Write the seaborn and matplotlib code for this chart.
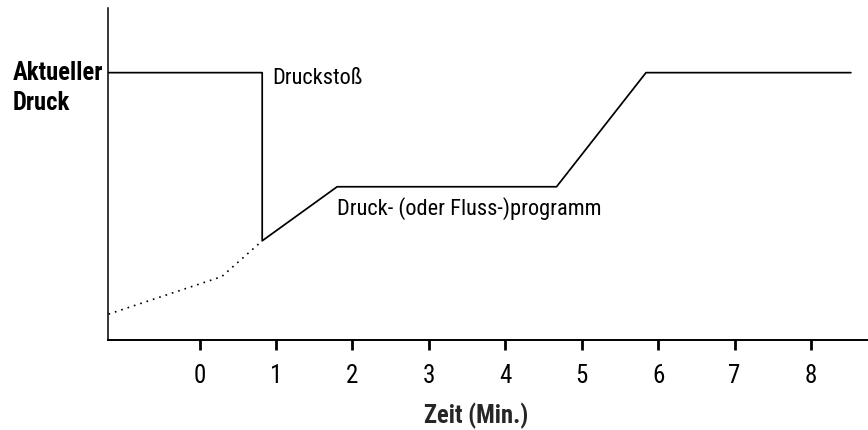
import matplotlib
matplotlib.use("Agg")
import matplotlib.pyplot as plt
from matplotlib import font_manager
import seaborn as sns
import pandas as pd

# Time axis (minutes) and pressure levels (arbitrary units)
time_program = [-1.19, 0.82, 0.82, 1.80, 4.67, 5.84, 8.52]
pressure_program = [8.06, 8.06, 2.99, 4.62, 4.62, 8.06, 8.06]

time_without_pulse = [-1.19, 0.29, 0.82]
pressure_without_pulse = [0.78, 1.91, 2.99]

tick_minutes = [0, 1, 2, 3, 4, 5, 6, 7, 8]
tick_labels = ["0", "1", "2", "3", "4", "5", "6", "7", "8"]

sns.set_style("white")


def as_weight(w):
    if isinstance(w, str):
        return font_manager.weight_dict.get(w, 400)
    return int(w)


# collect narrow faces and the weights each one offers
narrow_weights = {}
for f in font_manager.fontManager.ttflist:
    if "Narrow" in f.name or "Condensed" in f.name:
        narrow_weights.setdefault(f.name, set()).add(as_weight(f.weight))

preferred = ["Roboto Condensed", "Noto Sans Condensed", "Open Sans Condensed",
             "DejaVu Sans Condensed", "Liberation Sans Narrow"]
regular_family = None
for name in preferred + sorted(narrow_weights):
    if name in narrow_weights and 400 in narrow_weights[name]:
        regular_family = name
        break
if regular_family is None:
    regular_family = next(iter(narrow_weights), "DejaVu Sans")

bold_family = None
bold_weight = "bold"
if any(w >= 700 for w in narrow_weights.get(regular_family, ())):
    bold_family = regular_family
else:
    for name in preferred + sorted(narrow_weights):
        heavy = [w for w in narrow_weights.get(name, ()) if w >= 600]
        if heavy:
            bold_family = name
            bold_weight = min(heavy, key=lambda w: abs(w - 700))
            break
if bold_family is None:
    bold_family = regular_family

plt.rcParams["font.family"] = [regular_family, "DejaVu Sans"]
plt.rcParams["text.color"] = "black"
plt.rcParams["xtick.color"] = "black"
bold_font = dict(family=[bold_family, "DejaVu Sans"], weight=bold_weight)

W, H = 868, 430
fig = plt.figure(figsize=(W / 100, H / 100), dpi=100)
left, right, bottom, top = 108, 868, 340, 8.3
ax = fig.add_axes([left / W, 1 - bottom / H, (right - left) / W, (bottom - top) / H])

prog = pd.DataFrame({"t": time_program, "p": pressure_program})
free = pd.DataFrame({"t": time_without_pulse, "p": pressure_without_pulse})

sns.lineplot(data=prog, x="t", y="p", sort=False, estimator=None,
             color="black", linewidth=1.25, ax=ax)
sns.lineplot(data=free, x="t", y="p", sort=False, estimator=None,
             color="black", linewidth=1.2, linestyle=(0, (1, 3)), ax=ax)

ax.set_xlim(-1.197, 8.744)
ax.set_ylim(0, 10)

for side in ("top", "right"):
    ax.spines[side].set_visible(False)
ax.spines["left"].set_linewidth(1.1)
ax.spines["bottom"].set_linewidth(1.4)
for side in ("left", "bottom"):
    ax.spines[side].set_color("black")

# size the two text styles so the longest labels get their intended widths
renderer = fig.canvas.get_renderer()


def fitted_size(text, width_px, **font):
    probe = fig.text(0, 0, text, fontsize=20, **font)
    w = probe.get_window_extent(renderer).width
    probe.remove()
    return 20 * width_px / w


size_regular = min(fitted_size("Druck- (oder Fluss-)programm", 264), 17)
size_bold = min(fitted_size("Aktueller", 90, **bold_font), 18)

ax.set_yticks([])
ax.set_xticks(tick_minutes)
ax.set_xticklabels(tick_labels)
ax.tick_params(axis="x", direction="out", length=7, width=2.0, color="black",
               pad=10, labelsize=size_regular * 1.12, bottom=True)

ax.set_ylabel("")
ax.set_xlabel("Zeit (Min.)", fontsize=size_bold, va="baseline", **bold_font)
ax.xaxis.set_label_coords((476 - left) / (right - left), (bottom - 423) / (bottom - top))

ax.text(0.952, 7.73, "Druckstoß", fontsize=size_regular, va="baseline", ha="left")
ax.text(1.80, 3.765, "Druck- (oder Fluss-)programm", fontsize=size_regular,
        va="baseline", ha="left")

fig.text(12.5 / W, 1 - 80 / H, "Aktueller", fontsize=size_bold,
         va="baseline", ha="left", **bold_font)
fig.text(12.5 / W, 1 - 110 / H, "Druck", fontsize=size_bold,
         va="baseline", ha="left", **bold_font)

fig.savefig("out.png", dpi=100)
